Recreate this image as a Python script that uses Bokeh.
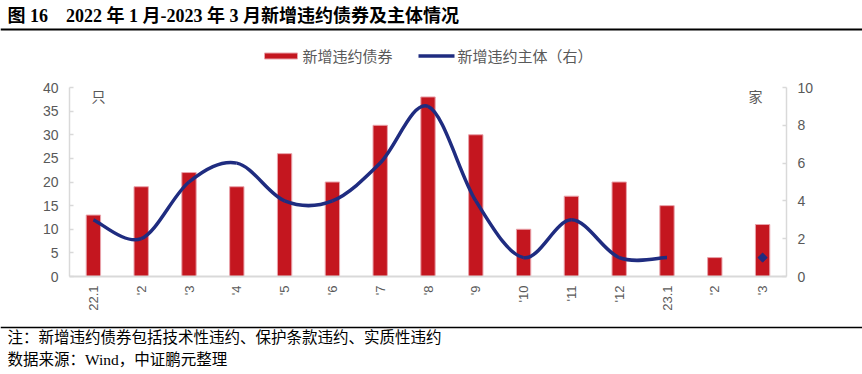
import math
from bokeh.plotting import figure
from bokeh.models import Range1d, LinearAxis, FixedTicker
from bokeh.layouts import column
from bokeh.embed import file_html
from bokeh.resources import INLINE
from bokeh.core.properties import value

# ---------------- data ----------------
months = ["22.1", "'2", "'3", "'4", "'5", "'6", "'7", "'8", "'9", "'10", "'11", "'12", "23.1", "'2", "'3"]
new_default_bonds = [13, 19, 22, 19, 26, 20, 32, 38, 30, 10, 17, 20, 15, 4, 11]
new_default_issuers = [3, 2, 5, 6, 4, 4, 6, 9, 4, 1, 3, 1, 1, None, 1]
left_ticks = [0, 5, 10, 15, 20, 25, 30, 35, 40]
right_ticks = [0, 2, 4, 6, 8, 10]

NB = "\u00a0"
title_text = "图" + NB + "16" + NB * 4 + "2022" + NB + "年" + NB + "1" + NB + "月-2023" + NB + "年" + NB + "3" + NB + "月新增违约债券及主体情况"
note_text = "注：新增违约债券包括技术性违约、保护条款违约、实质性违约"
source_text = "数据来源：Wind，中证鹏元整理"
bar_name = "新增违约债券"
line_name = "新增违约主体（右）"
left_unit = "只"
right_unit = "家"

# ---------------- styles ----------------
W = 862
SANS_NAME = "Liberation Sans, Noto Sans CJK SC"
SERIF_NAME = "Liberation Serif, Noto Sans CJK SC"
SANS = value(SANS_NAME)
SERIF = value(SERIF_NAME)
GRAY = "#595959"
AXIS_GRAY = "#D9D9D9"
RED = "#C4161F"
BAR_EDGE = "#E9A3AB"
NAVY = "#1F2C80"


def blank(height):
    f = figure(width=W, height=height, x_range=Range1d(0, W), y_range=Range1d(height, 0),
               output_backend="svg", toolbar_location=None, min_border=0,
               x_axis_location=None, y_axis_location=None, frame_align=False)
    f.grid.visible = False
    f.outline_line_color = None
    return f


# ---------------- header: title, rule, legend ----------------
TOP_H = 75
top = blank(TOP_H)
top.text(x=[7], y=[15], text=[title_text], text_font=SERIF, text_font_style="bold",
         text_font_size="18px", text_baseline="middle", text_color="#000000")
top.segment(x0=[0], y0=[29], x1=[W], y1=[29], line_color="#000000", line_width=1.8)
# legend swatches + labels
top.rect(x=[280.5], y=[55.5], width=33, height=6, fill_color=RED, line_color=BAR_EDGE, line_width=1)
top.segment(x0=[418], y0=[55.5], x1=[454], y1=[55.5], line_color=NAVY, line_width=3.5)
top.text(x=[302, 457], y=[56, 56], text=[bar_name, line_name], text_font=SANS,
         text_font_size="15px", text_baseline="middle", text_color=GRAY)

# ---------------- main chart ----------------
MAIN_H = 243
p = figure(width=W, height=MAIN_H, x_range=Range1d(-0.5, len(months) - 0.5), y_range=Range1d(0, 40),
           output_backend="svg", toolbar_location=None, frame_align=False,
           min_border_left=69, min_border_right=76, min_border_top=12, min_border_bottom=42)
p.extra_y_ranges = {"right": Range1d(0, 10)}
p.grid.visible = False
p.outline_line_color = None

idx = list(range(len(months)))
bars = p.vbar(x=idx, top=new_default_bonds, width=0.3, fill_color=RED,
              line_color=BAR_EDGE, line_width=1)

# smooth (Excel-style) curve through the issuer points, built from the data
runs, cur = [], []
for i, v in zip(idx, new_default_issuers):
    if v is None:
        if cur:
            runs.append(cur)
        cur = []
    else:
        cur.append((i, v))
if cur:
    runs.append(cur)

x0, y0, x1, y1, cx0, cy0, cx1, cy1 = [], [], [], [], [], [], [], []
single_x, single_y = [], []
for run in runs:
    n = len(run)
    if n == 1:
        single_x.append(run[0][0]); single_y.append(run[0][1])
        continue
    for i in range(n - 1):
        pa = run[i - 1] if i > 0 else run[i]
        pb, pc = run[i], run[i + 1]
        pd = run[i + 2] if i + 2 < n else run[i + 1]
        x0.append(pb[0]); y0.append(pb[1])
        x1.append(pc[0]); y1.append(pc[1])
        cx0.append(pb[0] + (pc[0] - pa[0]) / 6); cy0.append(pb[1] + (pc[1] - pa[1]) / 6)
        cx1.append(pc[0] - (pd[0] - pb[0]) / 6); cy1.append(pc[1] - (pd[1] - pb[1]) / 6)

p.bezier(x0=x0, y0=y0, x1=x1, y1=y1, cx0=cx0, cy0=cy0, cx1=cx1, cy1=cy1,
         line_color=NAVY, line_width=3.5, y_range_name="right")
p.scatter(x=single_x, y=single_y, marker="square", angle=math.pi / 4, size=6.5,
          fill_color=NAVY, line_color=NAVY, y_range_name="right")

# unit labels (inside the plot area, top corners)
p.text(x=[idx[0]], y=[left_ticks[-1]], text=[left_unit], text_font=SANS, text_font_size="14px",
       text_color=GRAY, text_align="center", text_baseline="top", x_offset=5, y_offset=1)
p.text(x=[idx[-1]], y=[left_ticks[-1]], text=[right_unit], text_font=SANS, text_font_size="14px",
       text_color=GRAY, text_align="center", text_baseline="top", x_offset=-7, y_offset=1)

# axes
xa = p.xaxis[0]
xa.ticker = FixedTicker(ticks=idx)
xa.major_label_overrides = {i: m for i, m in enumerate(months)}
xa.major_label_orientation = math.pi / 2
xa.major_label_standoff = 9
xa.major_label_text_font = SANS_NAME
xa.major_label_text_font_size = "13px"
xa.major_label_text_color = GRAY
xa.axis_line_color = AXIS_GRAY
xa.axis_line_width = 2
xa.major_tick_in = 0
xa.major_tick_out = 0
xa.minor_tick_in = 0
xa.minor_tick_out = 0

ya = p.yaxis[0]
ya.ticker = FixedTicker(ticks=left_ticks)
ra = LinearAxis(y_range_name="right", ticker=FixedTicker(ticks=right_ticks))
p.add_layout(ra, "right")
for ax in (ya, ra):
    ax.major_label_text_font = SANS_NAME
    ax.major_label_text_font_size = "14px"
    ax.major_label_text_color = GRAY
    ax.major_label_standoff = 11
    ax.axis_line_color = AXIS_GRAY
    ax.axis_line_width = 1.5
    ax.major_tick_line_color = AXIS_GRAY
    ax.major_tick_line_width = 1.5
    ax.major_tick_in = 4
    ax.major_tick_out = 0
    ax.minor_tick_in = 0
    ax.minor_tick_out = 0

# ---------------- footer ----------------
BOT_H = 56
bot = blank(BOT_H)
bot.segment(x0=[0], y0=[9], x1=[W], y1=[9], line_color="#000000", line_width=1.5)
bot.text(x=[7, 7], y=[19, 41], text=[note_text, source_text], text_font=SERIF,
         text_font_size="15.5px", text_baseline="middle", text_color="#000000")

layout = column(top, p, bot, spacing=0)
open("out.html", "w").write(file_html(layout, INLINE))
